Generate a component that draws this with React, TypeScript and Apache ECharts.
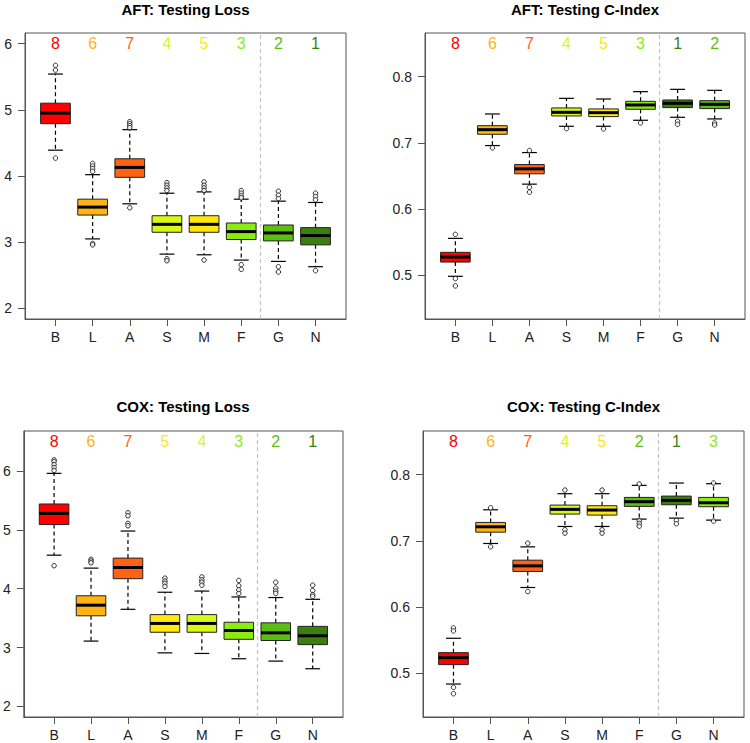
import React, { useEffect, useRef } from "react";
import * as echarts from "echarts";

const categories = ["B", "L", "A", "S", "M", "F", "G", "N"];

// rank colours: index = rank - 1
const rankColors = ["#3B7F0C", "#5CBE10", "#8CEC12", "#D9F816", "#FFE810", "#FFB414", "#FF6212", "#FF0000"];

// [lower whisker, Q1, median, Q3, upper whisker]
const aftLossStats = [
  [4.39, 4.79, 4.95, 5.1, 5.54],
  [3.05, 3.41, 3.53, 3.65, 4.02],
  [3.58, 3.98, 4.13, 4.26, 4.7],
  [2.82, 3.15, 3.27, 3.4, 3.74],
  [2.81, 3.15, 3.27, 3.4, 3.76],
  [2.73, 3.04, 3.16, 3.29, 3.65],
  [2.71, 3.02, 3.14, 3.26, 3.62],
  [2.63, 2.96, 3.1, 3.22, 3.6],
];
const aftLossOutliers = [
  [5.67, 5.6, 4.27],
  [4.19, 4.15, 4.11, 4.07, 2.98, 2.96],
  [4.82, 4.79, 4.76, 4.73, 3.52],
  [3.9, 3.86, 3.82, 3.78, 2.75, 2.72],
  [3.91, 3.86, 3.82, 3.78, 2.73],
  [3.78, 3.74, 3.7, 3.67, 2.66, 2.59],
  [3.77, 3.71, 3.66, 2.63, 2.55],
  [3.74, 3.69, 3.64, 2.57],
];
const aftLossRanks = [8, 6, 7, 4, 5, 3, 2, 1];

const aftCStats = [
  [0.4985, 0.52, 0.5276, 0.5347, 0.5558],
  [0.696, 0.713, 0.72, 0.726, 0.7437],
  [0.6377, 0.6533, 0.6608, 0.6673, 0.6854],
  [0.7251, 0.7407, 0.7462, 0.7528, 0.7673],
  [0.7251, 0.7397, 0.7457, 0.7513, 0.7663],
  [0.7342, 0.7508, 0.7573, 0.7628, 0.7774],
  [0.7387, 0.7533, 0.7598, 0.7648, 0.7809],
  [0.7362, 0.7518, 0.7583, 0.7638, 0.7794],
];
const aftCOutliers = [
  [0.5618, 0.495, 0.484],
  [0.6925],
  [0.6884, 0.633, 0.6256],
  [0.7216],
  [0.7211],
  [0.7302],
  [0.7327, 0.7281],
  [0.7302, 0.7271],
];
const aftCRanks = [8, 6, 7, 4, 5, 3, 1, 2];

const coxLossStats = [
  [4.57, 5.09, 5.28, 5.44, 5.96],
  [3.11, 3.54, 3.72, 3.88, 4.35],
  [3.65, 4.17, 4.36, 4.52, 4.98],
  [2.91, 3.26, 3.41, 3.56, 3.94],
  [2.9, 3.26, 3.41, 3.56, 3.96],
  [2.81, 3.14, 3.29, 3.43, 3.86],
  [2.77, 3.12, 3.25, 3.42, 3.85],
  [2.64, 3.05, 3.2, 3.36, 3.82],
];
const coxLossOutliers = [
  [6.19, 6.16, 6.11, 6.06, 6.01, 4.39],
  [4.5, 4.47, 4.44],
  [5.29, 5.24, 5.11, 5.07],
  [4.18, 4.13, 4.09, 4.04],
  [4.2, 4.15, 4.11, 4.06],
  [4.14, 4.05, 3.98, 3.92],
  [4.11, 4.01, 3.96, 3.92],
  [4.06, 3.97, 3.9, 3.87],
];
const coxLossRanks = [8, 6, 7, 5, 4, 3, 2, 1];

const coxCStats = [
  [0.4838, 0.5131, 0.5237, 0.5312, 0.5529],
  [0.6961, 0.7132, 0.7213, 0.7279, 0.747],
  [0.6296, 0.6538, 0.6623, 0.6709, 0.691],
  [0.7218, 0.7405, 0.7476, 0.7541, 0.7713],
  [0.7218, 0.739, 0.7466, 0.7531, 0.7713],
  [0.7329, 0.7521, 0.7592, 0.7657, 0.7839],
  [0.7344, 0.7546, 0.7612, 0.7677, 0.7874],
  [0.7314, 0.7516, 0.7576, 0.7657, 0.7864],
];
const coxCOutliers = [
  [0.5685, 0.564, 0.4788, 0.4692],
  [0.75, 0.6911],
  [0.6966, 0.6235],
  [0.7768, 0.7168, 0.7117],
  [0.7768, 0.7168, 0.7117],
  [0.7859, 0.7304, 0.7264, 0.7223],
  [0.7309, 0.7259],
  [0.7874, 0.7299],
];
const coxCRanks = [8, 6, 7, 4, 5, 2, 1, 3];

const lossTicks = [2, 3, 4, 5, 6];
const cTicks = [0.5, 0.6, 0.7, 0.8];

const FONT = "Liberation Sans, Arial, sans-serif";

type Panel = {
  title: string;
  stats: number[][];
  outliers: number[][];
  ranks: number[];
  yMin: number;
  yMax: number;
  ticks: number[];
  fmt: (v: number) => string;
  grid: { left: number; top: number; width: number; height: number };
  titleY: number;
};

const panels: Panel[] = [
  {
    title: "AFT: Testing Loss",
    stats: aftLossStats,
    outliers: aftLossOutliers,
    ranks: aftLossRanks,
    yMin: 2,
    yMax: 6,
    ticks: lossTicks,
    fmt: (v) => String(v),
    grid: { left: 25, top: 33, width: 321, height: 286 },
    titleY: 2,
  },
  {
    title: "AFT: Testing C-Index",
    stats: aftCStats,
    outliers: aftCOutliers,
    ranks: aftCRanks,
    yMin: 0.45,
    yMax: 0.85,
    ticks: cTicks,
    fmt: (v) => v.toFixed(1),
    grid: { left: 425, top: 33, width: 320, height: 286 },
    titleY: 2,
  },
  {
    title: "COX: Testing Loss",
    stats: coxLossStats,
    outliers: coxLossOutliers,
    ranks: coxLossRanks,
    yMin: 2,
    yMax: 6.5,
    ticks: lossTicks,
    fmt: (v) => String(v),
    grid: { left: 23, top: 431, width: 320, height: 286 },
    titleY: 399,
  },
  {
    title: "COX: Testing C-Index",
    stats: coxCStats,
    outliers: coxCOutliers,
    ranks: coxCRanks,
    yMin: 0.45,
    yMax: 0.85,
    ticks: cTicks,
    fmt: (v) => v.toFixed(1),
    grid: { left: 423, top: 431, width: 321, height: 286 },
    titleY: 399,
  },
];

function buildOption() {
  const grids: any[] = [];
  const xAxes: any[] = [];
  const yAxes: any[] = [];
  const series: any[] = [];
  const titles: any[] = [];
  const xTickVals = categories.map((_, i) => i + 1);

  panels.forEach((p, k) => {
    grids.push({ ...p.grid, show: true, borderColor: "#555", borderWidth: 1, backgroundColor: "transparent" });
    titles.push({
      text: p.title,
      left: p.grid.left + p.grid.width / 2,
      top: p.titleY,
      padding: 0,
      textAlign: "center",
      textStyle: { fontFamily: FONT, fontWeight: "bold", fontSize: 15, color: "#000" },
    });
    const xPad = 8 * 0.04;
    xAxes.push({
      type: "value",
      gridIndex: k,
      min: 0.5 - xPad,
      max: 8.5 + xPad,
      splitLine: { show: false },
      axisLine: { show: true, lineStyle: { color: "#555" } },
      axisTick: { show: true, customValues: xTickVals, length: 7, lineStyle: { color: "#555" } },
      axisLabel: {
        show: true,
        customValues: xTickVals,
        margin: 11,
        fontFamily: FONT,
        fontSize: 14,
        color: "#222",
        formatter: (v: number) => categories[Math.round(v) - 1] ?? "",
      },
    });
    const yPad = (p.yMax - p.yMin) * 0.04;
    yAxes.push({
      type: "value",
      gridIndex: k,
      min: p.yMin - yPad,
      max: p.yMax + yPad,
      splitLine: { show: false },
      axisLine: { show: true, lineStyle: { color: "#555" } },
      axisTick: { show: true, customValues: p.ticks, length: 7, lineStyle: { color: "#555" } },
      axisLabel: {
        show: true,
        customValues: p.ticks,
        margin: 13,
        fontFamily: FONT,
        fontSize: 14,
        color: "#222",
        formatter: (v: number) => p.fmt(v),
      },
    });

    // boxes
    series.push({
      type: "custom",
      xAxisIndex: k,
      yAxisIndex: k,
      clip: false,
      data: p.stats.map((s, i) => [i + 1, ...s, p.ranks[i]]),
      dimensions: ["x", "lo", "q1", "med", "q3", "hi", "rank"],
      encode: { x: 0, y: [1, 2, 3, 4, 5] },
      renderItem: (params: any, api: any) => {
        const x = api.value(0);
        const lo = api.coord([x, api.value(1)]);
        const q1 = api.coord([x, api.value(2)]);
        const med = api.coord([x, api.value(3)]);
        const q3 = api.coord([x, api.value(4)]);
        const hi = api.coord([x, api.value(5)]);
        const rank = api.value(6);
        const bw = api.size([0.8, 0])[0];
        const sw = bw / 2;
        const cx = lo[0];
        const dash = { stroke: "#000", lineWidth: 1.2, lineDash: [4, 3] };
        const solid = { stroke: "#000", lineWidth: 1.2 };
        return {
          type: "group",
          children: [
            { type: "line", shape: { x1: cx, y1: q3[1], x2: cx, y2: hi[1] }, style: dash },
            { type: "line", shape: { x1: cx, y1: q1[1], x2: cx, y2: lo[1] }, style: dash },
            { type: "line", shape: { x1: cx - sw / 2, y1: hi[1], x2: cx + sw / 2, y2: hi[1] }, style: solid },
            { type: "line", shape: { x1: cx - sw / 2, y1: lo[1], x2: cx + sw / 2, y2: lo[1] }, style: solid },
            {
              type: "rect",
              shape: { x: cx - bw / 2, y: q3[1], width: bw, height: q1[1] - q3[1] },
              style: { fill: rankColors[rank - 1], stroke: "#222", lineWidth: 1 },
            },
            { type: "line", shape: { x1: cx - bw / 2, y1: med[1], x2: cx + bw / 2, y2: med[1] }, style: { stroke: "#000", lineWidth: 3 } },
          ],
        };
      },
    });

    // outliers
    const outData: number[][] = [];
    p.outliers.forEach((arr, i) => arr.forEach((v) => outData.push([i + 1, v])));
    series.push({
      type: "scatter",
      xAxisIndex: k,
      yAxisIndex: k,
      symbol: "circle",
      symbolSize: 4.5,
      itemStyle: { color: "#fff", borderColor: "#000", borderWidth: 1 },
      data: outData,
      markLine: {
        silent: true,
        symbol: ["none", "none"],
        label: { show: false },
        lineStyle: { type: [4, 3], color: "#c4c4c4", width: 1.2 },
        data: [{ xAxis: 6.5 }],
      },
    });

    // rank labels
    series.push({
      type: "custom",
      xAxisIndex: k,
      yAxisIndex: k,
      clip: false,
      data: p.ranks.map((r, i) => [i + 1, p.yMax, r]),
      encode: { x: 0, y: 1 },
      renderItem: (params: any, api: any) => {
        const pt = api.coord([api.value(0), api.value(1)]);
        const r = api.value(2);
        return {
          type: "text",
          x: pt[0],
          y: pt[1],
          style: {
            text: String(r),
            fill: rankColors[r - 1],
            fontFamily: FONT,
            fontSize: 16,
            align: "center",
            verticalAlign: "middle",
          },
        };
      },
    });
  });

  return {
    animation: false,
    backgroundColor: "#fff",
    title: titles,
    grid: grids,
    xAxis: xAxes,
    yAxis: yAxes,
    series,
  };
}

export default function App() {
  const ref = useRef<HTMLDivElement>(null);
  useEffect(() => {
    if (!ref.current) return;
    const chart = echarts.init(ref.current, undefined, { renderer: "svg" });
    chart.setOption(buildOption() as any);
    return () => chart.dispose();
  }, []);
  return (
    <div
      ref={ref}
      style={{ position: "absolute", left: 0, top: 0, width: 750, height: 743, background: "#fff" }}
    />
  );
}
